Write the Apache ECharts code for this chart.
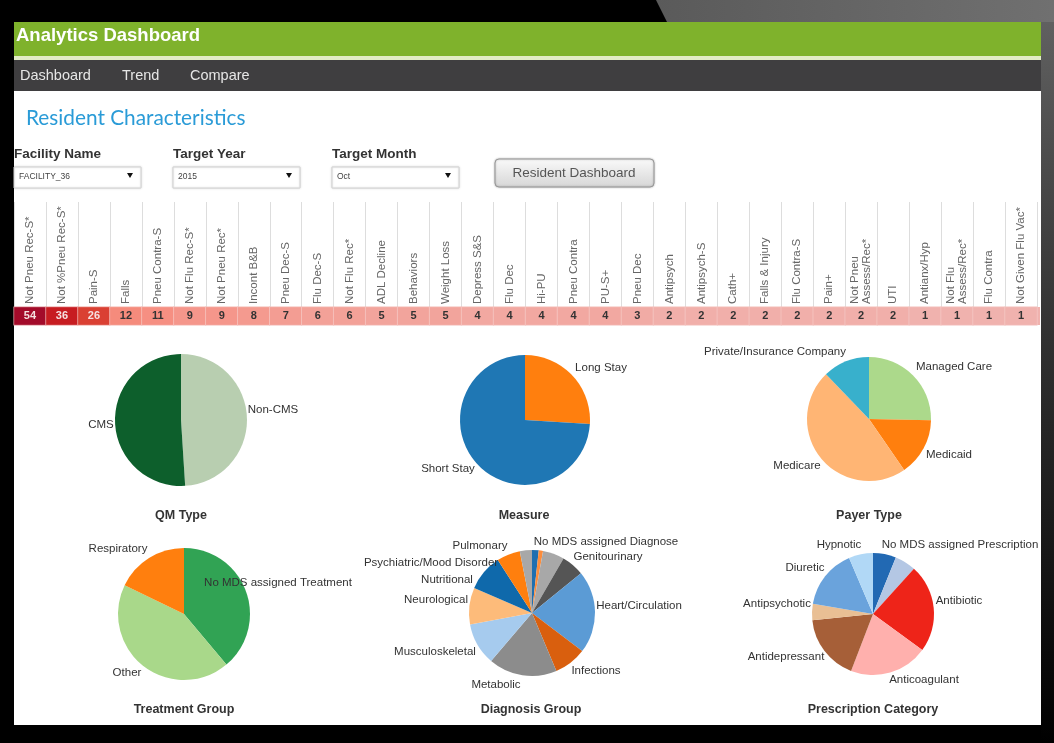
<!DOCTYPE html>
<html>
<head>
<meta charset="utf-8">
<title>Analytics Dashboard</title>
<script src="https://cdn.jsdelivr.net/npm/echarts@6/dist/echarts.min.js"></script>
<style>
    html, body { margin: 0; padding: 0; background: #000; overflow: hidden; }
    #chart { width: 1054px; height: 743px; filter: blur(0.45px); }
</style>
</head>
<body>
<div id="chart"></div>
<script>
// quality measures strip
const measures = ["Not Pneu Rec-S*", "Not %Pneu Rec-S*", "Pain-S", "Falls", "Pneu Contra-S", "Not Flu Rec-S*",
    "Not Pneu Rec*", "Incont B&B", "Pneu Dec-S", "Flu Dec-S", "Not Flu Rec*", "ADL Decline", "Behaviors",
    "Weight Loss", "Depress S&S", "Flu Dec", "Hi-PU", "Pneu Contra", "PU-S+", "Pneu Dec", "Antipsych",
    "Antipsych-S", "Cath+", "Falls & Injury", "Flu Contra-S", "Pain+", "Not Pneu\nAssess/Rec*", "UTI",
    "Antianx/Hyp", "Not Flu\nAssess/Rec*", "Flu Contra", "Not Given Flu Vac*"];
const measureCounts = [54, 36, 26, 12, 11, 9, 9, 8, 7, 6, 6, 5, 5, 5, 4, 4, 4, 4, 4, 3, 2, 2, 2, 2, 2, 2, 2, 2, 1, 1, 1, 1];

// pies, read clockwise from 12 o'clock
const qmNames = ["Non-CMS", "CMS"];
const qmValues = [49, 51];
const measureNames = ["Long Stay", "Short Stay"];
const measureValues = [26, 74];
const payerNames = ["Managed Care", "Medicaid", "Medicare", "Private/Insurance Company"];
const payerValues = [25.3, 15.1, 47.4, 12.2];
const treatmentNames = ["No MDS assigned Treatment", "Other", "Respiratory"];
const treatmentValues = [38.9, 43.3, 17.8];
const diagnosisNames = ["", "", "No MDS assigned Diagnose", "Genitourinary", "Heart/Circulation", "Infections",
    "Metabolic", "Musculoskeletal", "Neurological", "Nutritional", "Psychiatric/Mood Disorder", "Pulmonary"];
const diagnosisValues = [1.7, 1.1, 5.5, 5.8, 21.1, 8.3, 17.5, 10.8, 9.4, 9.3, 6, 3.1];
const prescriptionNames = ["No MDS assigned Prescription", "", "Antibiotic", "Anticoagulant", "Antidepressant",
    "Antipsychotic", "Diuretic", "Hypnotic"];
const prescriptionValues = [6.1, 5.6, 23.3, 20.8, 17.5, 4.3, 15.9, 6.4];

const qmColors = ["#b8ceb0", "#0d5f2c"];
const measureColors = ["#ff7f0e", "#1f77b4"];
const payerColors = ["#acd98b", "#ff7f0e", "#ffb574", "#38b0cc"];
const treatmentColors = ["#31a354", "#a9d88a", "#ff7f0e"];
const diagnosisColors = ["#1f6fb0", "#fd8d3c", "#a8a8a8", "#555555", "#5b9bd5", "#d95f0e", "#8c8c8c", "#a6cbee",
    "#fdbb7a", "#0f69ab", "#ff7f0e", "#a8a8a8"];
const prescriptionColors = ["#2269b3", "#b4c7e4", "#ee2419", "#ffb0ad", "#a65f38", "#e9bf94", "#6aa3dc", "#b1d8f6"];

// where the original dashboard left each slice label (label centre)
const labelSpots = {
    "CMS": [101, 425], "Non-CMS": [273, 410],
    "Long Stay": [601, 368], "Short Stay": [448, 469],
    "Private/Insurance Company": [775, 352], "Managed Care": [954, 367], "Medicaid": [949, 455], "Medicare": [797, 466],
    "Respiratory": [118, 549], "No MDS assigned Treatment": [278, 583], "Other": [127, 673],
    "Pulmonary": [480, 546], "No MDS assigned Diagnose": [606, 542], "Genitourinary": [608, 557],
    "Psychiatric/Mood Disorder": [431, 563], "Nutritional": [447, 580], "Neurological": [436, 600],
    "Heart/Circulation": [639, 606], "Musculoskeletal": [435, 652], "Infections": [596, 671], "Metabolic": [496, 685],
    "Hypnotic": [839, 545], "No MDS assigned Prescription": [960, 545], "Diuretic": [805, 568],
    "Antipsychotic": [777, 604], "Antibiotic": [959, 601], "Antidepressant": [786, 657], "Anticoagulant": [924, 680]
};

function pie(names, values, colors, center, radius) {
    return {
        type: "pie",
        center: center,
        radius: radius,
        startAngle: 90,
        avoidLabelOverlap: false,
        silent: true,
        animation: false,
        data: names.map((name, i) => ({ name: name, value: values[i], itemStyle: { color: colors[i] } })),
        label: { show: true, formatter: "{b}", color: "#333", fontSize: 11.5, fontFamily: "Liberation Sans" },
        labelLine: { show: false },
        labelLayout: (params) => {
            const spot = labelSpots[params.text];
            if (!spot) return {};
            return { x: spot[0], y: spot[1], align: "center", verticalAlign: "middle" };
        }
    };
}

function pieTitle(text, x, y) {
    return {
        text: text, left: x, top: y, textAlign: "center", padding: 0,
        textStyle: { fontSize: 12.5, fontWeight: "bold", color: "#333", fontFamily: "Liberation Sans" }
    };
}

function txt(text, x, y, size, color, extra) {
    return {
        type: "text", z: -5, x: x, y: y, silent: true,
        style: Object.assign({ text: text, fontSize: size, fill: color, fontFamily: "Liberation Sans", verticalAlign: "middle" }, extra)
    };
}

function box(x, y, w, h, fill, extra) {
    return {
        type: "rect", z: -10, silent: true, shape: { x: x, y: y, width: w, height: h },
        style: Object.assign({ fill: fill }, extra)
    };
}

function dropdown(x, label, value) {
    return [
        txt(label, x, 154, 13.5, "#333", { fontWeight: "bold" }),
        box(x, 167, 127, 21, "#fff", { stroke: "#d4d4d4", lineWidth: 1, shadowBlur: 2, shadowColor: "rgba(0,0,0,0.15)" }),
        txt(value, x + 5, 177, 8.5, "#444"),
        {
            type: "polygon", z: -5, silent: true,
            shape: { points: [[x + 113, 173], [x + 119, 173], [x + 116, 178]] },
            style: { fill: "#111" }
        }
    ];
}

const buttonBox = box(495, 159, 159, 28, new echarts.graphic.LinearGradient(0, 0, 0, 1, [
    { offset: 0, color: "#fafafa" }, { offset: 1, color: "#d6d6d6" }]),
    { stroke: "#999", lineWidth: 1, shadowBlur: 2, shadowColor: "rgba(0,0,0,0.3)" });
buttonBox.shape.r = 4;

const chrome = [
    box(0, 0, 1054, 743, "#000"),
    {
        type: "polygon", z: -10, silent: true,
        shape: { points: [[656, 0], [1054, 0], [1054, 22], [667, 22]] },
        style: { fill: new echarts.graphic.LinearGradient(0, 0, 1, 0, [{ offset: 0, color: "#5a5a5a" }, { offset: 1, color: "#707070" }]) }
    },
    box(1041, 22, 13, 721, new echarts.graphic.LinearGradient(0, 0, 0, 1, [
        { offset: 0, color: "#606060" }, { offset: 0.45, color: "#303030" }, { offset: 1, color: "#000" }])),
    box(14, 22, 1027, 703, "#fff"),
    box(14, 22, 1027, 34, "#7fb22c"),
    box(14, 56, 1027, 4, "#e2ecc6"),
    box(14, 60, 1027, 31, "#3f3e40"),
    txt("Analytics Dashboard", 16, 36, 18.5, "#fff", { fontWeight: "bold" }),
    txt("Dashboard", 20, 76, 14.5, "#e6e6e6"),
    txt("Trend", 122, 76, 14.5, "#e6e6e6"),
    txt("Compare", 190, 76, 14.5, "#e6e6e6"),
    txt("Resident Characteristics", 26, 118, 20.8, "#2a9bd7", { fontFamily: "Lato" }),
    ...dropdown(14, "Facility Name", "FACILITY_36"),
    ...dropdown(173, "Target Year", "2015"),
    ...dropdown(332, "Target Month", "Oct"),
    buttonBox,
    txt("Resident Dashboard", 574, 173, 13.5, "#555", { align: "center" }),
    box(1037, 307, 3, 18, "#f0b2ae")
];

const chart = echarts.init(document.getElementById("chart"));

chart.setOption({
    animation: false,
    graphic: { elements: chrome },
    title: [
        pieTitle("QM Type", 181, 509),
        pieTitle("Measure", 524, 509),
        pieTitle("Payer Type", 869, 509),
        pieTitle("Treatment Group", 184, 703),
        pieTitle("Diagnosis Group", 531, 703),
        pieTitle("Prescription Category", 873, 703)
    ],
    grid: { left: 14, top: 307, width: 1023, height: 18 },
    xAxis: {
        type: "category",
        position: "top",
        data: measures,
        axisLine: { show: false },
        axisTick: { show: true, length: 105, lineStyle: { color: "#ddd" } },
        axisLabel: { interval: 0, rotate: -90, margin: 3, fontSize: 11.5, color: "#666", fontFamily: "Liberation Sans", lineHeight: 12 },
        splitLine: { show: false }
    },
    yAxis: { type: "category", data: ["count"], show: false },
    visualMap: {
        show: false, seriesIndex: 0, dimension: 2, min: 1, max: 54,
        inRange: { color: ["#f0b2ae", "#f68d7f", "#e2523c", "#cd1f22", "#b8141f", "#a30b2a"] }
    },
    series: [
        {
            type: "heatmap",
            silent: true,
            data: measureCounts.map((count, i) => ({
                value: [i, 0, count],
                label: { color: count > 20 ? "#f5e0e0" : "#333" }
            })),
            label: { show: true, fontSize: 11, fontWeight: "bold", fontFamily: "Liberation Sans" },
            itemStyle: { borderColor: "#f6cfcb", borderWidth: 0.6 }
        },
        pie(qmNames, qmValues, qmColors, [181, 420], 66),
        pie(measureNames, measureValues, measureColors, [525, 420], 65),
        pie(payerNames, payerValues, payerColors, [869, 419], 62),
        pie(treatmentNames, treatmentValues, treatmentColors, [184, 614], 66),
        pie(diagnosisNames, diagnosisValues, diagnosisColors, [532, 613], 63),
        pie(prescriptionNames, prescriptionValues, prescriptionColors, [873, 614], 61)
    ]
});
</script>
</body>
</html>
